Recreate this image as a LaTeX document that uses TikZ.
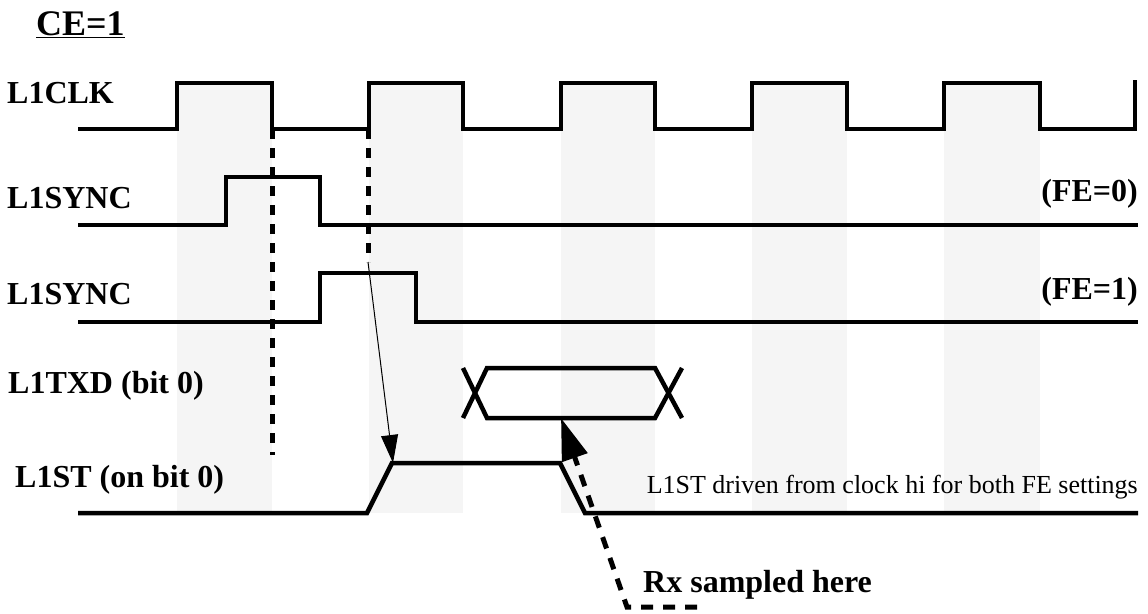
\documentclass[tikz,border=0pt]{standalone}
\usepackage{fontspec}
\setmainfont{Liberation Serif}
\usetikzlibrary{arrows.meta,positioning}

\begin{document}
\begin{tikzpicture}[
    x=1pt, y=-1pt,
    wave/.style={line width=4.5pt},
    band/.style={fill=gray!8},
    signame/.style={font=\fontsize{32}{38}\selectfont\bfseries, inner sep=0pt},
    notetext/.style={font=\fontsize{26}{31}\selectfont, inner sep=0pt},
    sampleline/.style={line width=5pt, dash pattern=on 10pt off 9pt},
    thinarrow/.style={-{Triangle[length=28pt,width=17pt]}, line width=1pt},
    rxarrow/.style={-{Triangle[length=42pt,width=26pt]}, line width=5pt, dash pattern=on 12pt off 10pt}
]
\useasboundingbox (0,0) rectangle (1148,613);

% clock high bands
\fill[band] (177,83) rectangle (272,513);
\fill[band] (369,83) rectangle (463,513);
\fill[band] (561,83) rectangle (655,513);
\fill[band] (752,83) rectangle (847,513);
\fill[band] (944,83) rectangle (1040,513);

\node[signame, anchor=base west] (ce) at (36,35) {\underline{\fontsize{36}{42}\selectfont CE=1}};
\node[signame, anchor=base west] (clk) at (7,103) {L1CLK};
\node[signame, anchor=base west] (sync0) at (7,208) {L1SYNC};
\node[signame, anchor=base west] (sync1) at (7,304) {L1SYNC};
\node[signame, anchor=base west] (txd) at (8,393) {L1TXD (bit 0)};
\node[signame, anchor=base west] (st) at (15,487) {L1ST (on bit 0)};
\node[signame, anchor=base east] (fe0) at (1138,201) {(FE=0)};
\node[signame, anchor=base east] (fe1) at (1138,299) {(FE=1)};
\node[notetext, anchor=base east] (drv) at (1138,493) {L1ST driven from clock hi for both FE settings};
\node[signame, anchor=base west] (rx) at (643,592) {Rx sampled here};

% waveforms
\draw[wave] (78,129) -- (177,129) -- (177,83) -- (272,83) -- (272,129) -- (369,129) -- (369,83)
    -- (463,83) -- (463,129) -- (561,129) -- (561,83) -- (655,83) -- (655,129) -- (752,129)
    -- (752,83) -- (847,83) -- (847,129) -- (944,129) -- (944,83) -- (1040,83) -- (1040,129)
    -- (1135,129) -- (1135,80);
\draw[wave] (78,225) -- (226,225) -- (226,177) -- (320,177) -- (320,225) -- (1138,225);
\draw[wave] (78,322) -- (320,322) -- (320,273) -- (416,273) -- (416,322) -- (1138,322);
\draw[wave] (463,368) -- (487,418) -- (655,418) -- (682,368);
\draw[wave] (463,418) -- (487,368) -- (655,368) -- (682,418);
\draw[wave] (78,513) -- (367,513) -- (392,463) -- (560,463) -- (585,513) -- (1138,513);

\coordinate (fall) at (272,129);
\coordinate (fallend) at (272,455);
\coordinate (rise) at (368,129);
\coordinate (riseend) at (368,262);
\coordinate (stup) at (393,463);
\coordinate (busbot) at (561,418);
\coordinate (rxfoot) at (627,607);
\coordinate (rxtail) at (697,607);

\draw[sampleline] (fall) -- (fallend);
\draw[sampleline] (rise) -- (riseend);
\draw[thinarrow] (riseend) -- (stup);
\draw[rxarrow] (rxtail) -- (rxfoot) -- (busbot);

\end{tikzpicture}
\end{document}
